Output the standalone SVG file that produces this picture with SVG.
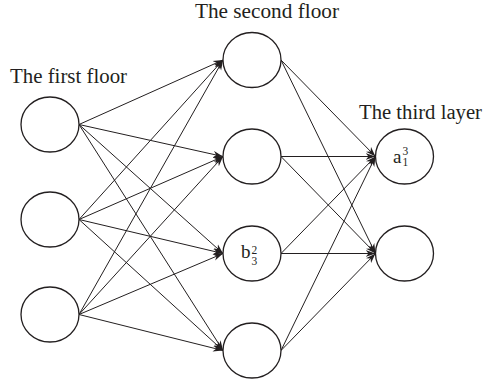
<svg xmlns="http://www.w3.org/2000/svg" width="484" height="383" viewBox="0 0 484 383">
<style>
.n{fill:#fff;stroke:#231f20;stroke-width:1.3}
.t{font-family:"Liberation Serif","Times New Roman",serif;font-size:20px;fill:#231f20}
.l{font-family:"Liberation Serif","Times New Roman",serif;font-size:19px;fill:#231f20}
.s{font-size:11.5px}
.e{stroke:#231f20;stroke-width:1;fill:none;marker-end:url(#ah)}
</style>
<defs>
<marker id="ah" viewBox="0 0 10 8" refX="10" refY="4" markerWidth="10" markerHeight="8" markerUnits="userSpaceOnUse" orient="auto">
<path d="M0,0.5 L10,4 L0,7.5 L3,4 Z" fill="#231f20"/>
</marker>
</defs>
<rect width="484" height="383" fill="#fff"/>
<g id="connectors">
<line class="e" x1="79" y1="124.5" x2="223" y2="60"/>
<line class="e" x1="79" y1="124.5" x2="223" y2="156.5"/>
<line class="e" x1="79" y1="124.5" x2="223" y2="253.5"/>
<line class="e" x1="79" y1="124.5" x2="223" y2="350.5"/>
<line class="e" x1="79" y1="219.5" x2="223" y2="60"/>
<line class="e" x1="79" y1="219.5" x2="223" y2="156.5"/>
<line class="e" x1="79" y1="219.5" x2="223" y2="253.5"/>
<line class="e" x1="79" y1="219.5" x2="223" y2="350.5"/>
<line class="e" x1="79" y1="314.5" x2="223" y2="60"/>
<line class="e" x1="79" y1="314.5" x2="223" y2="156.5"/>
<line class="e" x1="79" y1="314.5" x2="223" y2="253.5"/>
<line class="e" x1="79" y1="314.5" x2="223" y2="350.5"/>
<line class="e" x1="281" y1="60" x2="375.5" y2="156.5"/>
<line class="e" x1="281" y1="60" x2="375.5" y2="253.5"/>
<line class="e" x1="281" y1="156.5" x2="375.5" y2="156.5"/>
<line class="e" x1="281" y1="156.5" x2="375.5" y2="253.5"/>
<line class="e" x1="281" y1="253.5" x2="375.5" y2="156.5"/>
<line class="e" x1="281" y1="253.5" x2="375.5" y2="253.5"/>
<line class="e" x1="281" y1="350.5" x2="375.5" y2="156.5"/>
<line class="e" x1="281" y1="350.5" x2="375.5" y2="253.5"/>
</g>
<g id="title1"><text class="t" x="10" y="83" textLength="117" lengthAdjust="spacingAndGlyphs">The first floor</text></g>
<g id="title2"><text class="t" x="195" y="18" textLength="144" lengthAdjust="spacingAndGlyphs">The second floor</text></g>
<g id="title3"><text class="t" x="359" y="119" textLength="123" lengthAdjust="spacingAndGlyphs">The third layer</text></g>
<g id="n1_1"><ellipse class="n" cx="50" cy="124.5" rx="29" ry="27.5"/></g>
<g id="n1_2"><ellipse class="n" cx="50" cy="219.5" rx="29" ry="27.5"/></g>
<g id="n1_3"><ellipse class="n" cx="50" cy="314.5" rx="29" ry="27.5"/></g>
<g id="n2_1"><ellipse class="n" cx="252" cy="60" rx="29" ry="27.5"/></g>
<g id="n2_2"><ellipse class="n" cx="252" cy="156.5" rx="29" ry="27.5"/></g>
<g id="n2_3"><ellipse class="n" cx="252" cy="253.5" rx="29" ry="27.5"/>
<text class="l" x="241" y="257.5">b</text><text class="l s" x="251.5" y="254">2</text><text class="l s" x="251.5" y="265">3</text></g>
<g id="n2_4"><ellipse class="n" cx="252" cy="350.5" rx="29" ry="27.5"/></g>
<g id="n3_1"><ellipse class="n" cx="404.5" cy="156.5" rx="29" ry="27.5"/>
<text class="l" x="393" y="162.5">a</text><text class="l s" x="402.5" y="155">3</text><text class="l s" x="402.5" y="166">1</text></g>
<g id="n3_2"><ellipse class="n" cx="404.5" cy="253.5" rx="29" ry="27.5"/></g>
</svg>
